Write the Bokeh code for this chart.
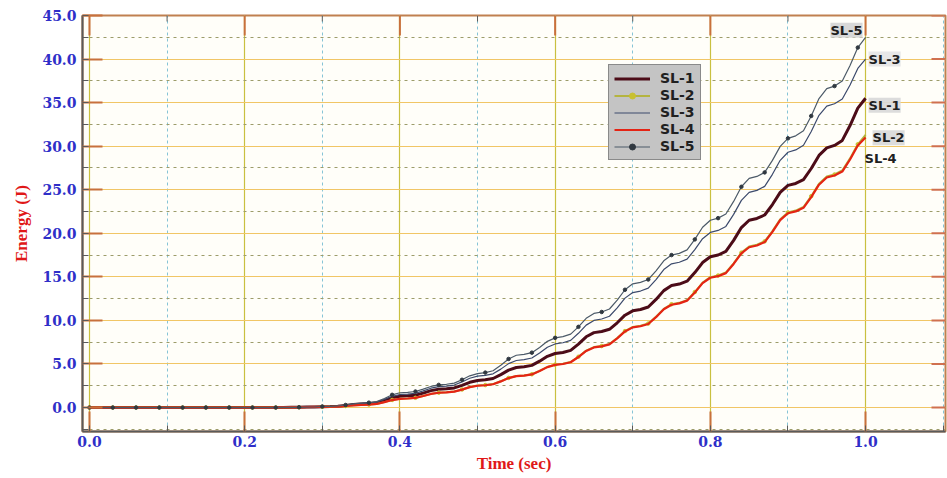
from bokeh.plotting import figure
from bokeh.models import Range1d, SingleIntervalTicker, NumeralTickFormatter, Label
from bokeh.embed import file_html
from bokeh.resources import INLINE

# Sampling instants (s)
TIME = [round(0.01 * i, 2) for i in range(101)]

# Energy (J) — quiet start up to 0.29 s
EARLY = [0.0] * 25 + [0.01, 0.02, 0.03, 0.05, 0.07]

# Energy (J) from 0.30 s to 1.00 s
SL1 = EARLY + [
    0.10, 0.12, 0.15, 0.24, 0.34,
    0.40, 0.45, 0.54, 0.81, 1.12,
    1.30, 1.34, 1.42, 1.66, 1.94,
    2.10, 2.15, 2.25, 2.55, 2.90,
    3.10, 3.18, 3.33, 3.78, 4.30,
    4.60, 4.68, 4.84, 5.32, 5.88,
    6.20, 6.32, 6.56, 7.28, 8.12,
    8.60, 8.73, 8.98, 9.73, 10.60,
    11.10, 11.25, 11.54, 12.41, 13.42,
    14.00, 14.17, 14.50, 15.49, 16.64,
    17.30, 17.51, 17.93, 19.19, 20.66,
    21.50, 21.70, 22.10, 23.30, 24.70,
    25.50, 25.72, 26.15, 27.44, 28.94,
    29.80, 30.09, 30.66, 32.37, 34.36,
    35.50]

SL2 = EARLY + [
    0.08, 0.09, 0.11, 0.18, 0.26,
    0.30, 0.34, 0.41, 0.62, 0.87,
    1.01, 1.05, 1.12, 1.33, 1.57,
    1.71, 1.75, 1.83, 2.07, 2.35,
    2.52, 2.58, 2.69, 3.02, 3.40,
    3.62, 3.69, 3.82, 4.21, 4.67,
    4.93, 5.03, 5.23, 5.83, 6.53,
    6.94, 7.06, 7.29, 7.98, 8.78,
    9.25, 9.38, 9.64, 10.42, 11.33,
    11.86, 12.02, 12.33, 13.26, 14.34,
    14.97, 15.15, 15.50, 16.56, 17.78,
    18.49, 18.69, 19.08, 20.25, 21.61,
    22.40, 22.61, 23.02, 24.26, 25.69,
    26.52, 26.75, 27.21, 28.60, 30.22,
    31.30]

SL3 = EARLY + [
    0.10, 0.12, 0.15, 0.26, 0.38,
    0.45, 0.50, 0.61, 0.92, 1.29,
    1.50, 1.55, 1.64, 1.91, 2.22,
    2.40, 2.46, 2.58, 2.94, 3.36,
    3.60, 3.69, 3.87, 4.41, 5.04,
    5.40, 5.50, 5.69, 6.26, 6.92,
    7.30, 7.44, 7.71, 8.52, 9.46,
    10.00, 10.16, 10.48, 11.44, 12.56,
    13.20, 13.37, 13.70, 14.69, 15.84,
    16.50, 16.68, 17.04, 18.12, 19.38,
    20.10, 20.33, 20.79, 22.17, 23.78,
    24.70, 24.93, 25.39, 26.77, 28.38,
    29.30, 29.57, 30.10, 31.69, 33.54,
    34.60, 34.87, 35.41, 37.03, 38.92,
    40.00]

SL4 = EARLY + [
    0.08, 0.09, 0.11, 0.18, 0.26,
    0.30, 0.34, 0.41, 0.62, 0.86,
    1.00, 1.04, 1.11, 1.32, 1.56,
    1.70, 1.74, 1.82, 2.06, 2.34,
    2.50, 2.56, 2.67, 3.00, 3.38,
    3.60, 3.67, 3.80, 4.19, 4.64,
    4.90, 5.00, 5.20, 5.80, 6.50,
    6.90, 7.02, 7.25, 7.94, 8.74,
    9.20, 9.33, 9.59, 10.37, 11.28,
    11.80, 11.96, 12.27, 13.20, 14.28,
    14.90, 15.08, 15.43, 16.48, 17.70,
    18.40, 18.60, 18.99, 20.16, 21.52,
    22.30, 22.51, 22.92, 24.15, 25.58,
    26.40, 26.63, 27.09, 28.47, 30.08,
    31.00]

SL5 = EARLY + [
    0.12, 0.14, 0.18, 0.29, 0.42,
    0.50, 0.56, 0.68, 1.04, 1.46,
    1.70, 1.75, 1.84, 2.11, 2.42,
    2.60, 2.67, 2.80, 3.19, 3.64,
    3.90, 4.01, 4.22, 4.85, 5.58,
    6.00, 6.10, 6.30, 6.90, 7.60,
    8.00, 8.14, 8.42, 9.26, 10.24,
    10.80, 10.97, 11.31, 12.33, 13.52,
    14.20, 14.37, 14.70, 15.69, 16.84,
    17.50, 17.70, 18.10, 19.30, 20.70,
    21.50, 21.74, 22.22, 23.66, 25.34,
    26.30, 26.53, 26.99, 28.37, 29.98,
    30.90, 31.19, 31.76, 33.47, 35.46,
    36.60, 36.90, 37.49, 39.26, 41.32,
    42.50]

NAMES = ["SL-1", "SL-2", "SL-3", "SL-4", "SL-5"]

# Axis ticks
X_MAJOR = [0.0, 0.2, 0.4, 0.6, 0.8, 1.0]
X_MINOR = [0.1, 0.3, 0.5, 0.7, 0.9]
Y_MAJOR = [0, 5, 10, 15, 20, 25, 30, 35, 40, 45]

X_LO, X_HI = -0.009, 1.103
Y_LO, Y_HI = -2.75, 45.0

SERIF = "DejaVu Serif"
SANS = "DejaVu Sans"
TICK_BLUE = "#2f2fc8"
LABEL_RED = "#e01818"
TICK_ORANGE = "#c8703c"

W, H = 947, 478
BL, BT, BB, BR = 82, 15, 47, 2

p = figure(width=W, height=H, output_backend="svg", toolbar_location=None,
           x_range=Range1d(X_LO, X_HI), y_range=Range1d(Y_LO, Y_HI),
           min_border_left=BL, min_border_top=BT, min_border_bottom=BB,
           min_border_right=BR, background_fill_color="#fffef9",
           border_fill_color="white")
p.outline_line_color = "#c08050"
p.outline_line_width = 2

xticker = SingleIntervalTicker(interval=0.2, num_minor_ticks=2)
yticker = SingleIntervalTicker(interval=5, num_minor_ticks=2)

p.xaxis.ticker = xticker
p.yaxis.ticker = yticker
p.xaxis.formatter = NumeralTickFormatter(format="0.0")
p.yaxis.formatter = NumeralTickFormatter(format="0.0")

for ax in (p.xaxis[0], p.yaxis[0]):
    ax.axis_line_color = "#5a5a5a"
    ax.axis_line_width = 2
    ax.major_tick_in = 20
    ax.major_tick_out = 0
    ax.major_tick_line_color = TICK_ORANGE
    ax.major_tick_line_width = 2
    ax.minor_tick_in = 6
    ax.minor_tick_out = 0
    ax.minor_tick_line_color = "#5a5a5a"
    ax.major_label_text_font = SERIF
    ax.major_label_text_font_style = "bold"
    ax.major_label_text_font_size = "14px"
    ax.major_label_text_color = TICK_BLUE
    ax.axis_label_text_font = "Liberation Serif"
    ax.axis_label_text_font_style = "bold"
    ax.axis_label_text_font_size = "17px"
    ax.axis_label_text_color = LABEL_RED

p.xaxis.axis_label = "Time (sec)"
p.yaxis.axis_label = "Energy (J)"
p.xaxis.major_label_standoff = 4
p.yaxis.major_label_standoff = 6
p.xaxis.axis_label_standoff = 4
p.yaxis.axis_label_standoff = 8

# Grid
p.xgrid.grid_line_color = "#c9c040"
p.xgrid.grid_line_width = 1.2
p.xgrid.minor_grid_line_color = "#86c4d6"
p.xgrid.minor_grid_line_dash = "3 3"
p.ygrid.grid_line_color = "#f1c666"
p.ygrid.grid_line_width = 1.2
p.ygrid.minor_grid_line_color = "#9c9c6a"
p.ygrid.minor_grid_line_dash = "3 4"

# Inward ticks along the top and right edges of the frame
px_per_y = (H - BT - BB) / (Y_HI - Y_LO)
px_per_x = (W - BL - BR) / (X_HI - X_LO)
top_len = 20 / px_per_y
p.segment(x0=X_MAJOR, y0=[Y_HI] * len(X_MAJOR), x1=X_MAJOR,
          y1=[Y_HI - top_len] * len(X_MAJOR),
          line_color=TICK_ORANGE, line_width=2)
p.segment(x0=X_MINOR, y0=[Y_HI] * len(X_MINOR), x1=X_MINOR,
          y1=[Y_HI - 6 / px_per_y] * len(X_MINOR),
          line_color="#5a5a5a", line_width=1)
right_len = 14 / px_per_x
p.segment(x0=[X_HI] * len(Y_MAJOR), y0=Y_MAJOR,
          x1=[X_HI - right_len] * len(Y_MAJOR), y1=Y_MAJOR,
          line_color="#d07050", line_width=2)

# Curves
styles = [
    dict(color="#4c0c18", width=3.0, marker=None),
    dict(color="#b4b440", width=2.0, marker="#c8c030"),
    dict(color="#3c4a6c", width=1.2, marker=None),
    dict(color="#e42414", width=2.2, marker=None),
    dict(color="#4c5a68", width=1.2, marker="#303840"),
]
series = [SL1, SL2, SL3, SL4, SL5]
for name, vals, st in zip(NAMES, series, styles):
    p.line(TIME, vals, line_color=st["color"], line_width=st["width"],
           legend_label=name)
    if st["marker"]:
        p.scatter(TIME[::3], vals[::3], size=3.5, marker="circle",
                  fill_color=st["marker"], line_color=st["marker"],
                  legend_label=name)

lg = p.legend[0]
lg.location = (526, 271)
lg.background_fill_color = "#c4c4c4"
lg.background_fill_alpha = 1.0
lg.border_line_color = "#505050"
lg.border_line_width = 1
lg.label_text_font = SANS
lg.label_text_font_style = "bold"
lg.label_text_font_size = "14px"
lg.label_text_color = "#202020"
lg.label_height = 15
lg.glyph_height = 15
lg.glyph_width = 36
lg.label_standoff = 10
lg.spacing = 1
lg.padding = 5
lg.margin = 0

# End-of-curve tags
tags = [
    ("SL-5", SL5[-1], "right", -3, 7, "#d4d4d4"),
    ("SL-3", SL3[-1], "left", 3, 0, "#e4e4e4"),
    ("SL-1", SL1[-1], "left", 3, -7, "#d8d8d8"),
    ("SL-2", SL2[-1], "left", 7, -3, "#d8d8d8"),
    ("SL-4", SL4[-1], "left", -1, -21, None),
]
for text, yv, align, dx, dy, bg in tags:
    p.add_layout(Label(x=1.0, y=yv, text=text, x_offset=dx, y_offset=dy,
                       text_align=align, text_baseline="middle",
                       text_font=SANS, text_font_style="bold",
                       text_font_size="13px", text_color="#202020",
                       background_fill_color=bg,
                       background_fill_alpha=0.9 if bg else 0.0))

open("out.html", "w").write(file_html(p, INLINE))
